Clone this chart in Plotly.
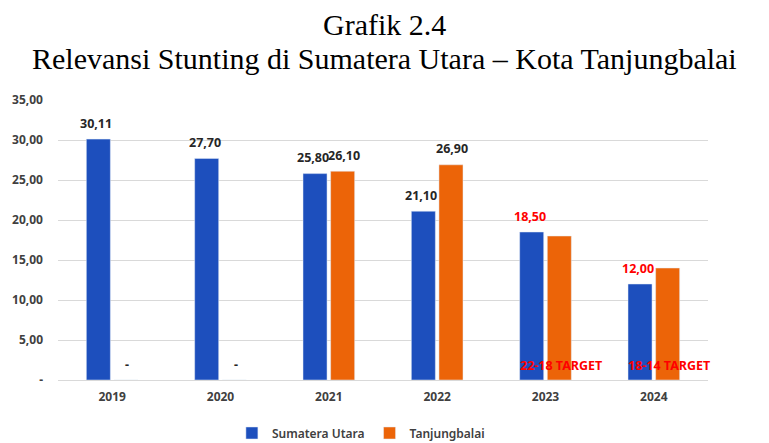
import plotly.graph_objects as go

# data
years = ["2019", "2020", "2021", "2022", "2023", "2024"]
sumut = [30.11, 27.70, 25.80, 21.10, 18.50, 12.00]
tanjungbalai = [0, 0, 26.10, 26.90, 18.00, 14.00]

sumut_labels = ["30,11", "27,70", "25,80", "21,10", "18,50", "12,00"]
sumut_label_red = [False, False, False, False, True, True]
tb_labels = ["-", "-", "26,10", "26,90", "22-18 TARGET", "18-14 TARGET"]
tb_label_red = [False, False, False, False, True, True]

ytick_vals = [0, 5, 10, 15, 20, 25, 30, 35]
ytick_text = ["-", "5,00", "10,00", "15,00", "20,00", "25,00", "30,00", "35,00"]

title_lines = ["Grafik 2.4", "Relevansi Stunting di Sumatera Utara – Kota Tanjungbalai"]

BLUE = "#1d4fbd"
ORANGE = "#ec6408"
DARK = "#262626"
RED = "#ff0000"
FONT = "Noto Sans"

fig = go.Figure()
fig.add_trace(go.Bar(x=years, y=sumut, name="Sumatera Utara", marker_color=BLUE))
fig.add_trace(go.Bar(x=years, y=tanjungbalai, name="Tanjungbalai", marker_color=ORANGE))

# data labels (positioned like the Excel ones); x given as category index
annotations = []
for i, (val, txt, red) in enumerate(zip(sumut, sumut_labels, sumut_label_red)):
    annotations.append(dict(x=i, y=val, text=txt, showarrow=False, xref="x", yref="y",
                            xshift=-16, yshift=16,
                            font=dict(family=FONT, size=12.5, color=RED if red else DARK,
                                      weight="bold")))
for i, (val, txt, red) in enumerate(zip(tanjungbalai, tb_labels, tb_label_red)):
    if red:
        yv, ys = 0, 15
    else:
        yv, ys = val, 16
    annotations.append(dict(x=i, y=yv, text=txt, showarrow=False, xref="x", yref="y",
                            xshift=15, yshift=ys,
                            font=dict(family=FONT, size=12.5, color=RED if red else DARK,
                                      weight="bold")))

# two-line heading above the chart
for txt, ypos in zip(title_lines, [1.268, 1.148]):
    annotations.append(dict(x=0.503, y=ypos, xref="paper", yref="paper", text=txt,
                            showarrow=False, xanchor="center", yanchor="middle",
                            font=dict(family="Liberation Serif", size=30, color="#000000")))

# page body has an 8px margin, so the figure is a bit smaller than the window
fig.update_layout(
    width=761, height=435,
    margin=dict(l=50, r=61, t=92, b=63),
    paper_bgcolor="white", plot_bgcolor="white",
    barmode="group", bargap=0.49, bargroupgap=0.13,
    xaxis=dict(type="category", range=[-0.5, 5.5], showgrid=False, showline=True,
               linecolor="#d9d9d9", ticks="", ticklabelstandoff=6, automargin=False,
               tickfont=dict(family=FONT, size=12, color="#404040", weight="bold")),
    yaxis=dict(range=[0, 35], tickvals=ytick_vals, ticktext=ytick_text,
               showgrid=True, gridcolor="#d9d9d9", gridwidth=1, zeroline=False,
               showline=False, ticks="", ticklabelstandoff=14, automargin=False,
               tickfont=dict(family=FONT, size=12, color="#404040", weight="bold")),
    legend=dict(orientation="h", x=0.466, xanchor="center",
                yref="container", y=0.023, yanchor="middle",
                font=dict(family=FONT, size=12, color="#404040", weight=600),
                itemwidth=30, traceorder="normal"),
    annotations=annotations,
)

fig.write_html("out.html")
